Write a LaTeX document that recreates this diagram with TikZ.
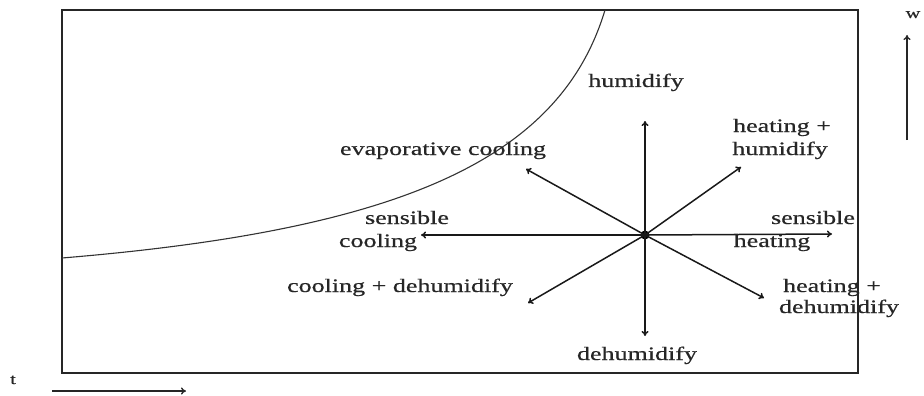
\documentclass[tikz,border=0pt]{standalone}
\usepackage{fontspec}
\setmainfont{Liberation Serif}[FakeStretch=1.37,FakeBold=0.6]
\usetikzlibrary{arrows.meta}
\begin{document}
\begin{tikzpicture}[x=1pt,y=-1pt,
  lbl/.style={font=\fontsize{19}{22}\selectfont, inner sep=0pt, anchor=base, text=black!85},
  arr/.style={-{To[length=5pt,width=7pt]}, line width=1.5pt, black!90},
  frame/.style={line width=2pt, draw=black!85}]
\useasboundingbox (0,0) rectangle (924,396);
% frame
\draw[frame] (62,10) rectangle (858,373);
% saturation curve
\coordinate (cs) at (62,258);
\coordinate (ce) at (605,10);
\draw[line width=1.1pt, black!80] (cs) .. controls (400,230) and (560,160) .. (ce);
% centre point
\node (c) [circle, fill=black, inner sep=0pt, minimum size=9pt] at (645,235) {};
\coordinate (up) at (645,121);
\coordinate (dn) at (645,336);
\coordinate (lf) at (421,235);
\coordinate (rt) at (832,234);
\coordinate (ul) at (526,169);
\coordinate (ur) at (741,167);
\coordinate (dl) at (528,303);
\coordinate (dr) at (764,298);
\foreach \t in {up,dn,lf,rt,ul,ur,dl,dr}
  \draw[arr] (c.center) -- (\t);
% labels
\node[lbl] (hum) at (636,87) {humidify};
\node[lbl] (hh1) at (782,132) {heating +};
\node[lbl] (hh2) at (780,155) {humidify};
\node[lbl] (evap) at (443,155) {evaporative cooling};
\node[lbl] (sc1) at (407,224) {sensible};
\node[lbl] (sc2) at (378,247) {cooling};
\node[lbl] (sh1) at (813,224) {sensible};
\node[lbl] (sh2) at (772,247) {heating};
\node[lbl] (cd) at (400,292) {cooling + dehumidify};
\node[lbl] (hd1) at (832,292) {heating +};
\node[lbl] (hd2) at (839,313) {dehumidify};
\node[lbl] (dh) at (637,360) {dehumidify};
% axes
\node[lbl, font=\fontsize{15}{18}\selectfont] (w) at (913,18) {w};
\coordinate (wb) at (907,140);
\coordinate (wt) at (907,35);
\draw[-{To[length=5pt,width=7pt]}, line width=1.3pt, black!85] (wb) -- (wt);
\node[lbl, font=\fontsize{15}{18}\selectfont] (t) at (13,384) {t};
\coordinate (tl) at (52,391);
\coordinate (tr) at (186,391);
\draw[-{To[length=5pt,width=7pt]}, line width=1.3pt, black!85] (tl) -- (tr);
\end{tikzpicture}
\end{document}
